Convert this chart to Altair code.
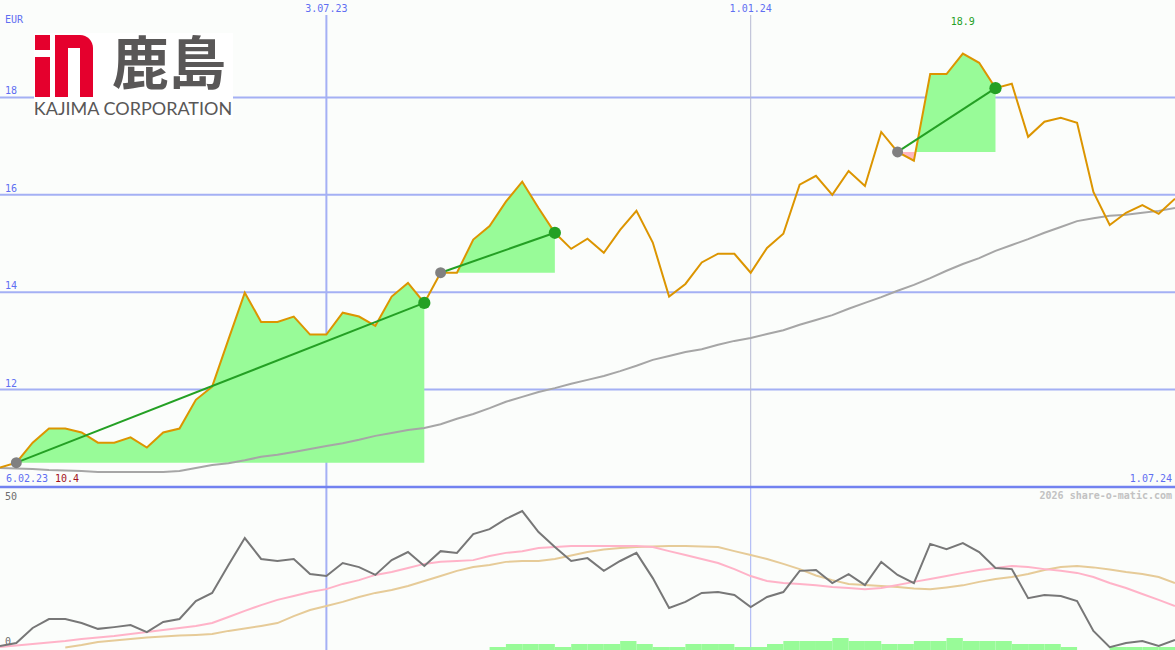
import altair as alt
import pandas as pd

W, H = 1175, 650
TOP_H = 487

# weekly closing prices (EUR), one value per Monday
first_week = pd.Timestamp("2023-02-13")
price = [10.40, 10.50, 10.91, 11.20, 11.20, 11.12, 10.91, 10.91, 11.02, 10.81,
         11.12, 11.20, 11.79, 12.06, 13.03, 13.99, 13.39, 13.39, 13.50, 13.13,
         13.13, 13.58, 13.50, 13.31, 13.91, 14.19, 13.78, 14.40, 14.40, 15.08,
         15.36, 15.86, 16.27, 15.73, 15.22, 14.89, 15.10, 14.81, 15.28, 15.67,
         15.02, 13.91, 14.17, 14.61, 14.79, 14.79, 14.40, 14.91, 15.20, 16.21,
         16.39, 16.00, 16.49, 16.18, 17.29, 16.88, 16.70, 18.48, 18.48, 18.90,
         18.71, 18.19, 18.28, 17.19, 17.50, 17.58, 17.48, 16.06, 15.38, 15.63,
         15.79, 15.61, 15.92]
# long moving average of the price
price_avg = [10.39, 10.38, 10.37, 10.35, 10.34, 10.33, 10.31, 10.31, 10.31, 10.31,
             10.31, 10.33, 10.39, 10.45, 10.49, 10.55, 10.62, 10.66, 10.72, 10.78,
             10.84, 10.90, 10.97, 11.05, 11.11, 11.17, 11.21, 11.29, 11.40, 11.50,
             11.62, 11.75, 11.85, 11.95, 12.03, 12.12, 12.20, 12.28, 12.38, 12.49,
             12.61, 12.69, 12.77, 12.83, 12.92, 13.00, 13.06, 13.14, 13.22, 13.33,
             13.43, 13.53, 13.66, 13.78, 13.90, 14.03, 14.15, 14.29, 14.44, 14.58,
             14.70, 14.85, 14.97, 15.09, 15.22, 15.34, 15.46, 15.52, 15.57, 15.59,
             15.63, 15.67, 15.73]
# oscillator panel
osc_main = [0.7, 1.7, 6.9, 10.0, 10.0, 8.6, 6.6, 7.2, 7.9, 5.5,
            9.0, 10.0, 16.2, 19.0, 28.6, 37.9, 30.7, 30.0, 30.7, 25.5,
            24.8, 29.3, 27.9, 25.2, 30.3, 33.1, 28.3, 33.4, 32.8, 39.3,
            41.0, 44.5, 47.2, 40.0, 34.8, 30.0, 31.0, 26.6, 30.0, 32.8,
            24.1, 13.8, 15.9, 19.0, 19.3, 18.3, 14.1, 17.6, 19.3, 26.6,
            26.9, 22.4, 25.5, 21.7, 29.7, 25.2, 22.4, 35.9, 34.1, 36.2,
            33.1, 27.6, 27.2, 17.2, 18.3, 17.9, 16.2, 5.9, 0.3, 1.7,
            2.4, 0.7, 2.8]
osc_fast = [0.3, 0.9, 1.4, 1.9, 2.4, 3.1, 3.6, 4.1, 4.8, 5.5,
            6.2, 6.9, 7.6, 8.6, 10.7, 12.8, 14.8, 16.6, 17.9, 19.3,
            20.3, 22.1, 23.4, 25.2, 26.2, 27.6, 29.0, 29.7, 30.0, 30.3,
            31.7, 32.8, 33.4, 34.5, 34.8, 35.2, 35.2, 35.2, 35.2, 35.2,
            34.8, 33.4, 32.1, 30.7, 29.3, 27.2, 24.8, 23.1, 22.4, 22.1,
            21.6, 21.0, 20.7, 20.3, 20.7, 21.7, 22.8, 23.8, 24.8, 25.9,
            26.9, 27.6, 28.3, 27.9, 27.2, 26.6, 25.9, 24.5, 22.4, 20.7,
            18.6, 16.6, 14.5]
osc_slow_start = 4
osc_slow = [0.2, 1.0, 2.1, 2.6, 3.1, 3.6, 4.0, 4.3, 4.5, 4.8,
            5.9, 6.7, 7.6, 8.6, 11.0, 13.1, 14.5, 15.9, 17.6, 19.0,
            20.0, 21.4, 23.1, 24.8, 26.6, 27.9, 28.6, 29.7, 30.0, 30.0,
            30.7, 31.9, 33.1, 34.0, 34.5, 34.8, 35.0, 35.2, 35.2, 35.0,
            34.8, 33.4, 32.1, 30.7, 29.0, 27.2, 25.0, 23.4, 22.1, 21.7,
            21.4, 21.0, 20.5, 20.3, 20.9, 21.6, 22.8, 23.8, 24.5, 25.5,
            26.9, 27.9, 28.3, 27.8, 27.1, 26.2, 25.5, 24.5, 22.4]
bar_start = 30
bar_levels = [1, 2, 2, 2, 1, 2, 2, 2, 3, 2,
              1, 1, 2, 2, 2, 1, 1, 2, 3, 3,
              3, 4, 3, 3, 2, 2, 3, 3, 4, 3,
              3, 3, 2, 2, 2, 1, 0, 0, 1, 1,
              1, 1]
# rising runs: (first week, last week)
trend_runs = [(1, 26), (27, 34), (55, 61)]
marker_days = ["2023-07-03", "2024-01-01"]
marker_text = ["3.07.23", "1.01.24"]
price_ticks = [12, 14, 16, 18]
osc_ticks = [0, 50]
start_text = "6.02.23"
end_text = "1.07.24"
currency = "EUR"
credit = "2026 share-o-matic.com"

MONO = "DejaVu Sans Mono"
BLUE_TXT = "#5f6ff2"
GRID = "#a4b0f4"
GREEN = "#24a024"
FILL = "#98fb98"
PINK = "#ffb6c1"
BG = "#fbfdfb"


def iso(ts):
    return pd.Timestamp(ts).strftime("%Y-%m-%dT%H:%M:%SZ")


weeks = [first_week + pd.Timedelta(weeks=i) for i in range(len(price))]
assert len(price_avg) == len(osc_main) == len(osc_fast) == len(weeks)
assert len(osc_slow) == len(weeks) - osc_slow_start

series = pd.DataFrame({
    "date": [iso(d) for d in weeks],
    "price": price,
    "avg": price_avg,
    "osc": osc_main,
    "fast": osc_fast,
})
slow_df = pd.DataFrame({"date": [iso(d) for d in weeks[osc_slow_start:]], "slow": osc_slow})
bars_df = pd.DataFrame({
    "d0": [iso(weeks[bar_start + i]) for i in range(len(bar_levels))],
    "d1": [iso(weeks[bar_start + i + 1]) for i in range(len(bar_levels))],
    "level": bar_levels,
})
bars_df = bars_df[bars_df["level"] > 0]

# shaded region between each run's price path and its starting level
fill_rows, run_rows = [], []
for k, (s, e) in enumerate(trend_runs):
    base = price[s]
    pts = []
    for i in range(s, e + 1):
        if i > s:
            a, b = price[i - 1] - base, price[i] - base
            if a * b < 0:
                t = a / (a - b)
                pts.append((weeks[i - 1] + (weeks[i] - weeks[i - 1]) * t, base))
        pts.append((weeks[i], price[i]))
    for d, v in pts:
        fill_rows.append({"run": k, "date": iso(d), "hi": max(v, base), "lo": min(v, base), "base": base})
    run_rows.append({"d0": iso(weeks[s]), "v0": price[s], "d1": iso(weeks[e]), "v1": price[e]})
fills = pd.DataFrame(fill_rows)
runs = pd.DataFrame(run_rows)

markers = pd.DataFrame({"date": [iso(pd.Timestamp(d)) for d in marker_days], "label": marker_text})
peak_i = max(range(len(price)), key=lambda i: price[i])
peak = pd.DataFrame({"date": [iso(weeks[peak_i])], "label": [f"{price[peak_i]:.1f}"]})
one = pd.DataFrame({"k": [0]})

XS = alt.Scale(domain=[alt.DateTime(year=2023, month=2, date=13, utc=True),
                       alt.DateTime(year=2024, month=7, date=1, utc=True)], nice=False)
Y_PRICE = alt.Scale(domain=[10, 20], range=[TOP_H, 0], nice=False, zero=False)
Y_OSC = alt.Scale(domain=[0, 50], range=[648, 503], nice=False, zero=False)
Y_BAR = alt.Scale(domain=[0, 10], range=[H, H - 30], nice=False, zero=False)


def xf(field):
    return alt.X(f"{field}:T", scale=XS, axis=None)


def yp(field):
    return alt.Y(f"{field}:Q", scale=Y_PRICE, axis=None)


def yo(field):
    return alt.Y(f"{field}:Q", scale=Y_OSC, axis=None)


def box(x0, y0, x1, y1, color, **kw):
    return alt.Chart(one).mark_rect(color=color, **kw).encode(
        x=alt.value(x0), x2=alt.value(x1), y=alt.value(y0), y2=alt.value(y1))


def label(text, x, y, color, align="left", **kw):
    return alt.Chart(one).mark_text(font=MONO, fontSize=10, color=color, align=align,
                                    baseline="middle", **kw).encode(
        x=alt.value(x), y=alt.value(y), text=alt.value(text))


# grid
hgrid = alt.Chart(pd.DataFrame({"v": price_ticks})).mark_rule(color=GRID, strokeWidth=2).encode(
    y=yp("v"), x=alt.value(0), x2=alt.value(W))
vline_a = alt.Chart(markers.iloc[[0]]).mark_rule(color=GRID, strokeWidth=2).encode(
    x=xf("date"), y=alt.value(15), y2=alt.value(H))
vline_b_top = alt.Chart(markers.iloc[[1]]).mark_rule(color="#b6b9d2", strokeWidth=1).encode(
    x=xf("date"), y=alt.value(15), y2=alt.value(TOP_H))
vline_b_bot = alt.Chart(markers.iloc[[1]]).mark_rule(color=GRID, strokeWidth=1).encode(
    x=xf("date"), y=alt.value(TOP_H), y2=alt.value(H))
divider = alt.Chart(one).mark_rule(color="#7282f0", strokeWidth=2.5).encode(
    x=alt.value(0), x2=alt.value(W), y=alt.value(TOP_H))

# price panel
green_fill = alt.Chart(fills).mark_area(color=FILL, opacity=1, clip=True).encode(
    x=xf("date"), y=yp("hi"), y2="base:Q", detail="run:N")
pink_fill = alt.Chart(fills).mark_area(color=PINK, opacity=1, clip=True).encode(
    x=xf("date"), y=yp("lo"), y2="base:Q", detail="run:N")
avg_line = alt.Chart(series).mark_line(color="#a6a6a6", strokeWidth=2, clip=True).encode(
    x=xf("date"), y=yp("avg"))
price_line = alt.Chart(series).mark_line(color="#dc9500", strokeWidth=2, clip=True).encode(
    x=xf("date"), y=yp("price"))
run_lines = alt.Chart(runs).mark_rule(color=GREEN, strokeWidth=2).encode(
    x=xf("d0"), x2="d1:T", y=yp("v0"), y2="v1:Q")
start_dots = alt.Chart(runs).mark_circle(color="#808080", size=120, opacity=1).encode(
    x=xf("d0"), y=yp("v0"))
end_dots = alt.Chart(runs).mark_circle(color=GREEN, size=150, opacity=1).encode(
    x=xf("d1"), y=yp("v1"))

tick_text = alt.Chart(pd.DataFrame({"v": price_ticks})).mark_text(
    font=MONO, fontSize=10, color=BLUE_TXT, align="left", baseline="middle", dy=-6).encode(
    x=alt.value(5), y=yp("v"), text="v:Q")
marker_lbl = alt.Chart(markers).mark_text(
    font=MONO, fontSize=10, color=BLUE_TXT, align="center", baseline="middle").encode(
    x=xf("date"), y=alt.value(9), text="label:N")
peak_lbl = alt.Chart(peak).mark_text(
    font=MONO, fontSize=10, color=GREEN, align="center", baseline="middle").encode(
    x=xf("date"), y=alt.value(22), text="label:N")

# oscillator panel
osc_bars = alt.Chart(bars_df).mark_rect(color=FILL, clip=True).encode(
    x=xf("d0"), x2="d1:T", y=alt.Y("level:Q", scale=Y_BAR, axis=None), y2=alt.value(H))
slow_line = alt.Chart(slow_df).mark_line(color="#e6cb98", strokeWidth=2, clip=True).encode(
    x=xf("date"), y=yo("slow"))
fast_line = alt.Chart(series).mark_line(color="#ffb3c8", strokeWidth=2, clip=True).encode(
    x=xf("date"), y=yo("fast"))
main_line = alt.Chart(series).mark_line(color="#777777", strokeWidth=2, clip=True).encode(
    x=xf("date"), y=yo("osc"))
osc_text = alt.Chart(pd.DataFrame({"v": osc_ticks})).mark_text(
    font=MONO, fontSize=10, color="#6e6e6e", align="left", baseline="middle", dy=-6).encode(
    x=alt.value(5), y=yo("v"), text="v:Q")

# company logo
LOGO_RED = "#e5002d"
LOGO_GREY = "#595757"
logo = [
    box(34, 33, 233, 119, "#ffffff"),
    box(35, 35, 50, 50, LOGO_RED),
    box(35, 57, 50, 97, LOGO_RED),
    box(55, 35, 93, 97, LOGO_RED, cornerRadiusTopRight=13),
    box(68, 48, 80, 97, "#ffffff"),
    alt.Chart(one).mark_text(font="Noto Sans CJK JP", fontSize=57, fontWeight="bold",
                             color=LOGO_GREY, align="left", baseline="middle").encode(
        x=alt.value(112), y=alt.value(67), text=alt.value("鹿島")),
    alt.Chart(one).mark_text(font="Lato", fontSize=18, color=LOGO_GREY,
                             align="center", baseline="middle").encode(
        x=alt.value(133), y=alt.value(110), text=alt.value("KAJIMA CORPORATION")),
]

texts = [
    label(currency, 5, 20, BLUE_TXT),
    label(start_text, 6, 479, BLUE_TXT),
    label(f"{price[0]:.1f}", 55, 479, "#a3131c"),
    label(end_text, 1172, 479, BLUE_TXT, align="right"),
    label(credit, 1172, 496, "#c2c2c2", align="right", fontWeight="bold"),
]

chart = alt.layer(
    hgrid, vline_a, vline_b_top, vline_b_bot,
    *logo,
    green_fill, pink_fill, avg_line, price_line, run_lines, start_dots, end_dots,
    osc_bars, slow_line, fast_line, main_line,
    divider,
    tick_text, marker_lbl, peak_lbl, osc_text, *texts,
).resolve_scale(y="independent").properties(
    width=W, height=H, padding=0, background=BG,
    autosize=alt.AutoSizeParams(type="none"),
).configure_view(stroke=None)

chart.save("out.html", embed_options={"renderer": "svg", "actions": False})
